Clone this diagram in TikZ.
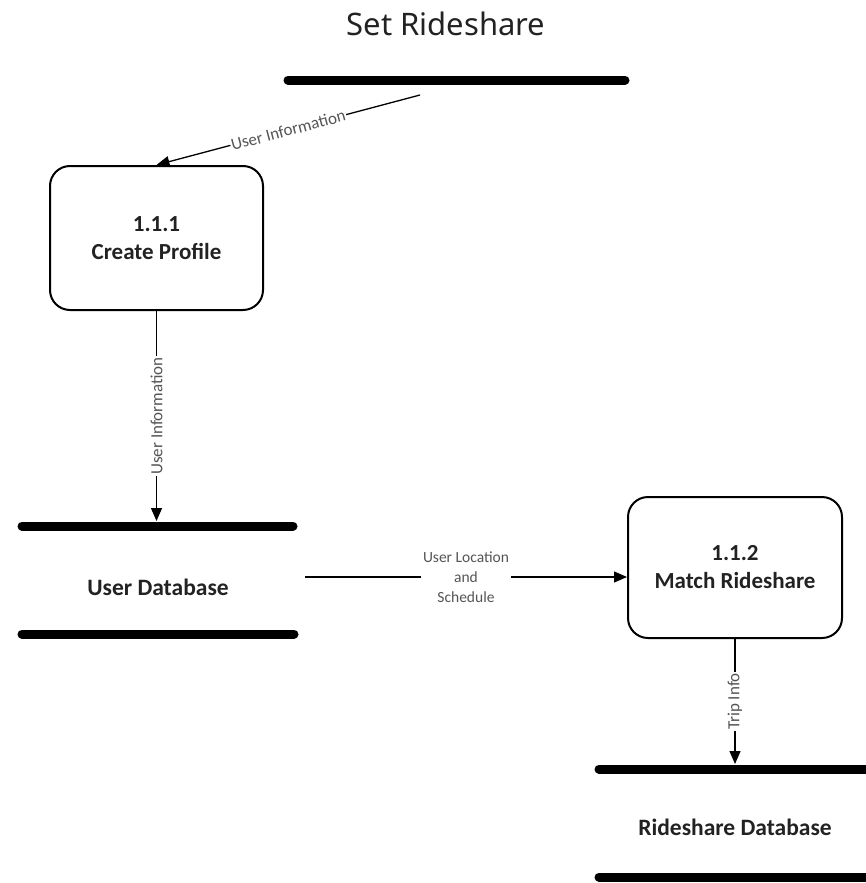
\documentclass[tikz,border=0pt]{standalone}
\usepackage{fontspec}
\setmainfont{Carlito}
\newfontfamily\titlefont{Noto Sans}
\usetikzlibrary{arrows.meta}
\definecolor{ink}{HTML}{222222}
\definecolor{labelgray}{HTML}{555555}
\begin{document}
\begin{tikzpicture}[x=1pt,y=-1pt,
  process/.style={draw, line width=2pt, rounded corners=20pt, align=center,
    font=\bfseries\fontsize{23}{28}\selectfont, text=ink},
  storebar/.style={line width=9pt, line cap=round},
  storelabel/.style={font=\bfseries\fontsize{23.5}{26}\selectfont, text=ink},
  flow/.style={line width=1.3pt, -{Triangle[length=13pt,width=11pt]}},
  flowlabel/.style={fill=white, inner sep=1pt, text=labelgray,
    font=\fontsize{17}{19}\selectfont},
  smalllabel/.style={fill=white, inner sep=2pt, text=labelgray, align=center,
    font=\fontsize{15.5}{20}\selectfont}]
\useasboundingbox (0,0) rectangle (865,883);

% title and the open store it belongs to
\node[font=\titlefont\fontsize{31}{34}\selectfont, text=ink] (title) at (446,24) {Set Rideshare};
\draw[storebar] (288,80) -- (625,80);
\coordinate (srcout) at (420,95);

% processes
\node[process, minimum width=213pt, minimum height=144pt] (c1) at (156.5,238) {1.1.1\\Create Profile};
\node[process, minimum width=214pt, minimum height=141pt] (m2) at (735,567.5) {1.1.2\\Match Rideshare};

% user database store
\node[storelabel] (udb) at (158,587) {User Database};
\draw[storebar] (22,526) -- (293,526);
\draw[storebar] (22,634) -- (294,634);
\coordinate (udbtop) at (156.5,521);
\coordinate (udbout) at (305,577);

% rideshare database store
\node[storelabel] (rdb) at (735,827) {Rideshare Database};
\draw[storebar] (599,769) -- (875,769);
\draw[storebar] (599,877) -- (875,877);
\coordinate (rdbtop) at (735,764);

% data flows
\draw[flow] (srcout) -- (c1.north)
  node[flowlabel, midway, sloped] {User Information};
\draw[flow] (c1.south) -- (udbtop)
  node[flowlabel, midway, rotate=90] {User Information};
\draw[flow] (udbout) -- (udbout -| m2.west)
  node[smalllabel, midway] {User Location\\and\\Schedule};
\draw[flow] (m2.south) -- (rdbtop)
  node[flowlabel, midway, rotate=90] {Trip Info};
\end{tikzpicture}
\end{document}
